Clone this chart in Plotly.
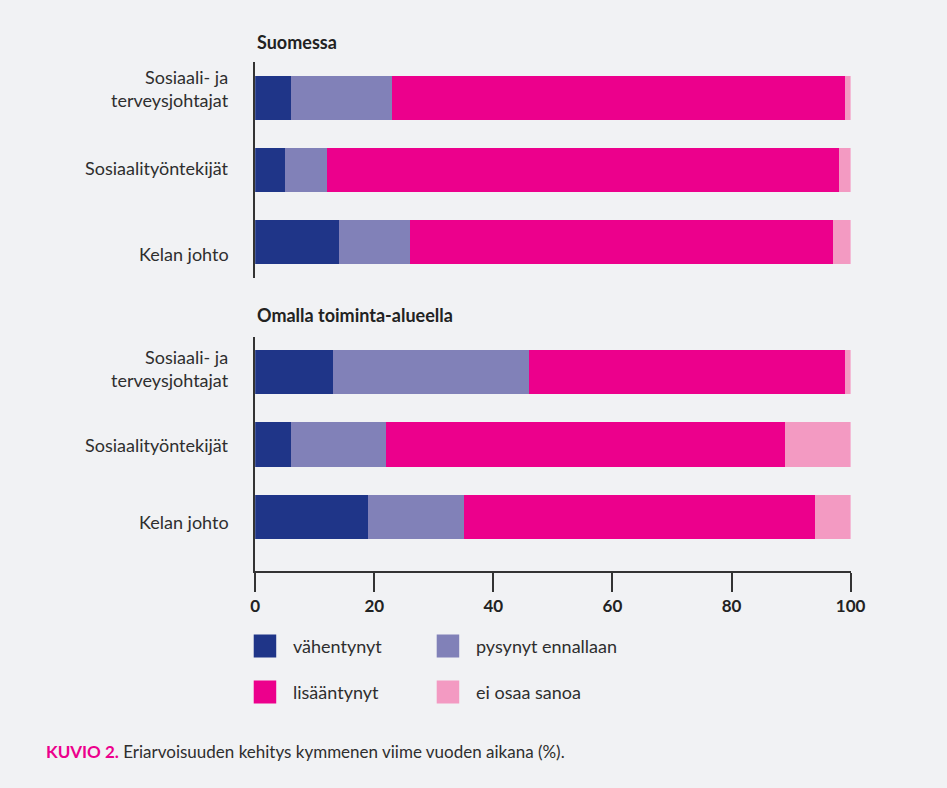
import plotly.graph_objects as go

# page is 947x788; body keeps its default 8px margin. Keep the figure a bit shorter
# than the viewport so no vertical scrollbar appears.
OFF = 8
W, H = 947 - 2 * OFF, 788 - 2 * OFF - 10

categories = ["Sosiaali- ja<br>terveysjohtajat", "Sosiaalityöntekijät", "Kelan johto"]
series_names = ["vähentynyt", "pysynyt ennallaan", "lisääntynyt", "ei osaa sanoa"]
colors = ["#1f3588", "#8181b8", "#ec008c", "#f39ac2"]

# Suomessa
suomessa_vahentynyt = [6, 5, 14]
suomessa_pysynyt = [17, 7, 12]
suomessa_lisaantynyt = [76, 86, 71]
suomessa_ei_osaa = [1, 2, 3]

# Omalla toiminta-alueella
omalla_vahentynyt = [13, 6, 19]
omalla_pysynyt = [33, 16, 16]
omalla_lisaantynyt = [53, 67, 59]
omalla_ei_osaa = [1, 11, 6]

x_ticks = [0, 20, 40, 60, 80, 100]
panel_titles = ["Suomessa", "Omalla toiminta-alueella"]
caption_bold = "KUVIO 2."
caption_text = "Eriarvoisuuden kehitys kymmenen viime vuoden aikana (%)."

FONT = "Lato"
TEXT = "#2e2e2e"
BG = "#f1f2f4"


def px(x):
    return (x - OFF) / W


def py(y):
    return 1 - (y - OFF) / H


fig = go.Figure()
ypos = [0, 1, 2]
top = [suomessa_vahentynyt, suomessa_pysynyt, suomessa_lisaantynyt, suomessa_ei_osaa]
bot = [omalla_vahentynyt, omalla_pysynyt, omalla_lisaantynyt, omalla_ei_osaa]
for vals_set, xa, ya in [(top, "x", "y"), (bot, "x2", "y2")]:
    for name, vals, col in zip(series_names, vals_set, colors):
        fig.add_trace(go.Bar(
            x=vals, y=ypos, orientation="h", name=name,
            marker=dict(color=col, line=dict(width=0)),
            width=0.61, xaxis=xa, yaxis=ya, showlegend=False,
            hovertemplate="%{x}%<extra>" + name + "</extra>",
        ))

xdom = [px(255.5), px(864)]
fig.update_layout(
    width=W, height=H, autosize=False,
    margin=dict(l=0, r=0, t=0, b=0),
    paper_bgcolor=BG,
    plot_bgcolor="rgba(0,0,0,0)",
    barmode="stack",
    font=dict(family=FONT, color=TEXT),
    xaxis=dict(domain=xdom, range=[0, 100], visible=False, anchor="y"),
    yaxis=dict(domain=[py(278), py(61.7)], range=[2.5, -0.5], showticklabels=False,
               ticks="", showgrid=False, zeroline=False, showline=True,
               linecolor="#333333", linewidth=1.5, anchor="x"),
    xaxis2=dict(domain=xdom, range=[0, 100], anchor="y2", tickvals=x_ticks,
                ticks="outside", ticklen=19, tickwidth=1.5, tickcolor="#333333",
                showline=True, linecolor="#333333", linewidth=1.5,
                showgrid=False, zeroline=False,
                tickfont=dict(family=FONT, size=17, color="#222222", weight="bold")),
    yaxis2=dict(domain=[py(571), py(337)], range=[2.745, -0.48], showticklabels=False,
                ticks="", showgrid=False, zeroline=False, showline=True,
                linecolor="#333333", linewidth=1.5, anchor="x2"),
)

ann = []
# panel titles
for t, yy in zip(panel_titles, [42, 315]):
    ann.append(dict(text="<b>" + t + "</b>", x=px(255), y=py(yy), xref="paper", yref="paper",
                    xanchor="left", yanchor="middle", showarrow=False,
                    font=dict(family=FONT, size=18, color="#222222")))

# category labels
label_y_top = [88, 168, 254]
label_y_bot = [368, 445, 522]
for ys in (label_y_top, label_y_bot):
    for cat, yy in zip(categories, ys):
        ann.append(dict(text=cat, x=px(231), y=py(yy), xref="paper", yref="paper",
                        xanchor="right", yanchor="middle", align="right", showarrow=False,
                        font=dict(family=FONT, size=18, color=TEXT)))

# legend
leg_pos = [(254, 646), (441, 646), (254, 692), (441, 692)]
for name, col, (lx, ly) in zip(series_names, colors, leg_pos):
    fig.add_shape(type="rect", xref="paper", yref="paper",
                  x0=px(lx), x1=px(lx + 23), y0=py(ly - 11.5), y1=py(ly + 11.5),
                  fillcolor=col, line=dict(width=0))
    ann.append(dict(text=name, x=px(lx + 38), y=py(ly), xref="paper", yref="paper",
                    xanchor="left", yanchor="middle", showarrow=False,
                    font=dict(family=FONT, size=18, color=TEXT)))

# caption
ann.append(dict(text=f"<b><span style='color:#ec008c'>{caption_bold}</span></b> {caption_text}",
                x=px(40), y=py(751), xref="paper", yref="paper",
                xanchor="left", yanchor="middle", showarrow=False,
                font=dict(family=FONT, size=17, color=TEXT)))

fig.update_layout(annotations=ann)
fig.write_html("out.html", config={"displayModeBar": False, "responsive": False},
               post_script=f"document.body.style.background='{BG}';")
